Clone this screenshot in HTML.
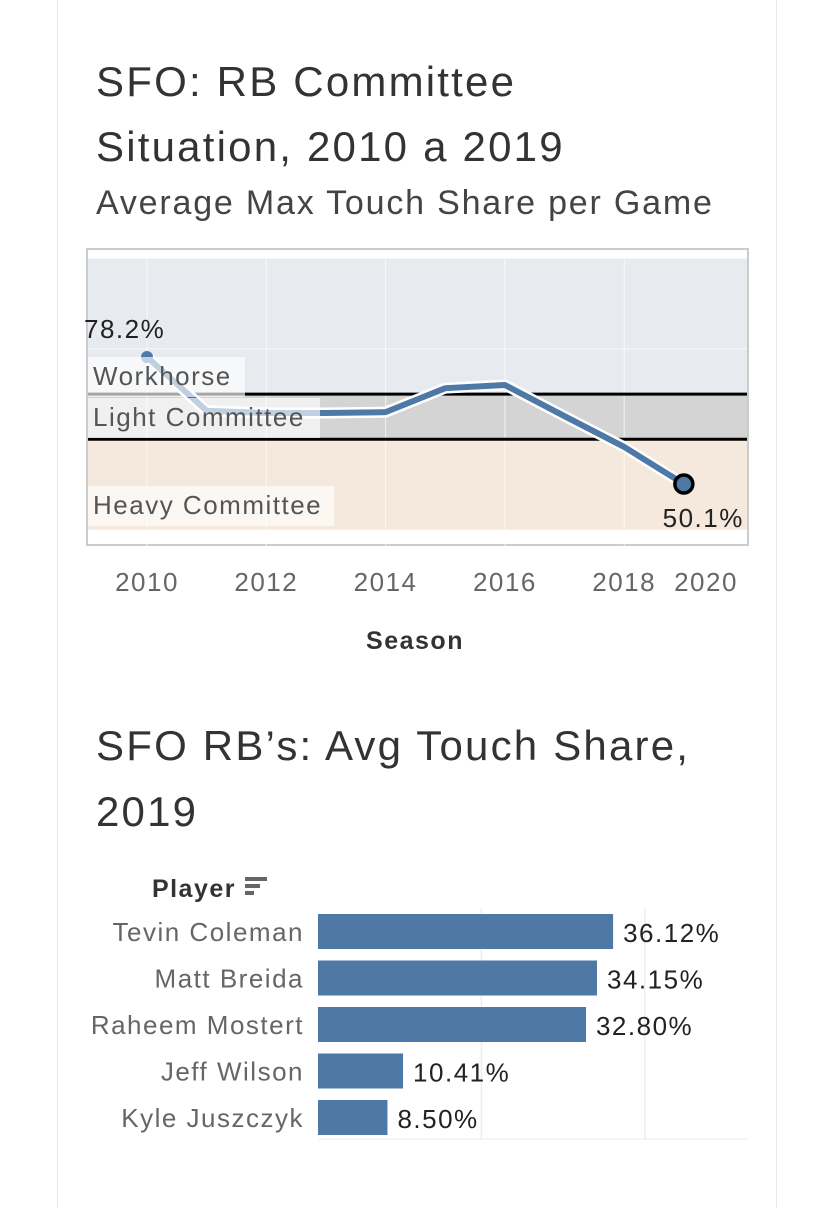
<!DOCTYPE html>
<html><head><meta charset="utf-8"><style>
body{margin:0;width:832px;height:1200px;background:#fff;overflow:hidden;font-family:"Liberation Sans",sans-serif}
.card{position:absolute;left:57px;top:-2px;width:718px;height:1210px;border-left:1px solid #e6e6e6;border-right:1px solid #e6e6e6}
.t{position:absolute;left:96px;color:#333;font-size:42px;letter-spacing:2.2px;line-height:1}
svg text{letter-spacing:1.5px}
</style></head><body>
<div class="card"></div>
<div class="t" style="top:61px">SFO: RB Committee</div>
<div class="t" style="top:126px">Situation, 2010 a 2019</div>
<div class="t" style="top:186px;font-size:34px;letter-spacing:1.8px;color:#444">Average Max Touch Share per Game</div>
<svg id="lc" width="832" height="680" style="position:absolute;left:0;top:0"></svg>
<div class="t" style="top:725px">SFO RB’s: Avg Touch Share,</div>
<div class="t" style="top:791px">2019</div>
<svg id="bc" width="832" height="1200" style="position:absolute;left:0;top:0"></svg>
<script>
const years=[2010,2011,2012,2013,2014,2015,2016,2017,2018,2019];
const share=[78.2,66.3,65.8,65.8,66.0,71.3,72.0,65.1,58.3,50.1];
const xTicks=[2010,2012,2014,2016,2018,2020];
const bands=[{name:"Workhorse",lo:70,hi:100,color:"#e7ebef"},{name:"Light Committee",lo:60,hi:70,color:"#d4d4d4"},{name:"Heavy Committee",lo:40,hi:60,color:"#f4e9dc"}];
const players=["Tevin Coleman","Matt Breida","Raheem Mostert","Jeff Wilson","Kyle Juszczyk"];
const touch=[36.12,34.15,32.80,10.41,8.50];
const barTicks=[20,40];
const NS="http://www.w3.org/2000/svg";
function mk(p,t,a,txt){const e=document.createElementNS(NS,t);for(const k in a)e.setAttribute(k,a[k]);if(txt!==undefined)e.textContent=txt;p.appendChild(e);return e;}
const X=y=>147+(y-2010)*59.65, Y=v=>357-(v-78.2)*4.52;
const lc=document.getElementById('lc');
let e;
e=mk(lc,'rect',{x:87,y:249,width:661,height:296,fill:'#fff',stroke:'#ccc','stroke-width':2});


bands.forEach(b=>{e=mk(lc,'rect',{x:88,y:Y(b.hi),width:659,height:Y(b.lo)-Y(b.hi),fill:b.color});

});
xTicks.slice(0,5).forEach(t=>{e=mk(lc,'line',{x1:X(t),x2:X(t),y1:250,y2:568,stroke:'#fff','stroke-width':1,opacity:0.7});

});
[80].forEach(v=>{e=mk(lc,'line',{x1:88,x2:747,y1:Y(v),y2:Y(v),stroke:'#fff','stroke-width':1,opacity:0.7});

});
[70,60].forEach(v=>{e=mk(lc,'line',{x1:88,x2:747,y1:Y(v),y2:Y(v),stroke:'#000','stroke-width':3});

});
const pts=years.map((y,i)=>X(y)+','+Y(share[i])).join(' ');
e=mk(lc,'polyline',{points:pts,fill:'none',stroke:'#fff','stroke-width':11,'stroke-linejoin':'round'});


e=mk(lc,'polyline',{points:pts,fill:'none',stroke:'#4e79a7','stroke-width':6,'stroke-linejoin':'round'});


e=mk(lc,'circle',{cx:X(2010),cy:Y(share[0]),r:6,fill:'#4e79a7'});


const lab=[["Workhorse",88,357,157],["Light Committee",88,398,232],["Heavy Committee",88,486,246]];
lab.forEach(l=>{e=mk(lc,'rect',{x:l[1],y:l[2],width:l[3],height:40,fill:'#fff',opacity:0.65});


e=mk(lc,'text',{x:93,y:l[2]+28,'font-size':26,fill:'#555'},l[0]);

});
const n=years.length-1;
e=mk(lc,'circle',{cx:X(years[n]),cy:Y(share[n]),r:9,fill:'#4e79a7',stroke:'#000','stroke-width':3.5});


e=mk(lc,'text',{x:84,y:338,'font-size':26,fill:'#222'},share[0].toFixed(1)+'%');


e=mk(lc,'text',{x:X(years[n])+60,y:527,'font-size':26,fill:'#222','text-anchor':'end'},share[n].toFixed(1)+'%');


xTicks.forEach((t,i)=>{const x=i==xTicks.length-1?706:X(t);
e=mk(lc,'text',{x:x,y:591,'font-size':26,fill:'#666','text-anchor':'middle'},t);

});
e=mk(lc,'text',{x:415,y:649,'font-size':25,fill:'#333','font-weight':'bold','text-anchor':'middle'},'Season');



const bc=document.getElementById('bc');
const BX=v=>318+v*8.17, R=i=>914+i*46.5;
barTicks.forEach(t=>{e=mk(bc,'line',{x1:BX(t),x2:BX(t),y1:908,y2:1140,stroke:'#eee','stroke-width':1.5});

});
e=mk(bc,'line',{x1:318,x2:748,y1:1139,y2:1139,stroke:'#eee','stroke-width':1});


e=mk(bc,'text',{x:236,y:897,'font-size':25,fill:'#333','font-weight':'bold','text-anchor':'end'},'Player');


[[0,22],[0,15],[0,9]].forEach((s,i)=>{e=mk(bc,'rect',{x:245,y:877+i*7,width:s[1],height:4,fill:'#666'});

});
players.forEach((p,i)=>{
e=mk(bc,'text',{x:304,y:R(i)+27,'font-size':26,fill:'#666','text-anchor':'end'},p);


e=mk(bc,'rect',{x:318,y:R(i),width:BX(touch[i])-318,height:35,fill:'#4e79a7'});


e=mk(bc,'text',{x:BX(touch[i])+10,y:R(i)+28,'font-size':26,fill:'#222'},touch[i].toFixed(2)+'%');

});
</script>
</body></html>
